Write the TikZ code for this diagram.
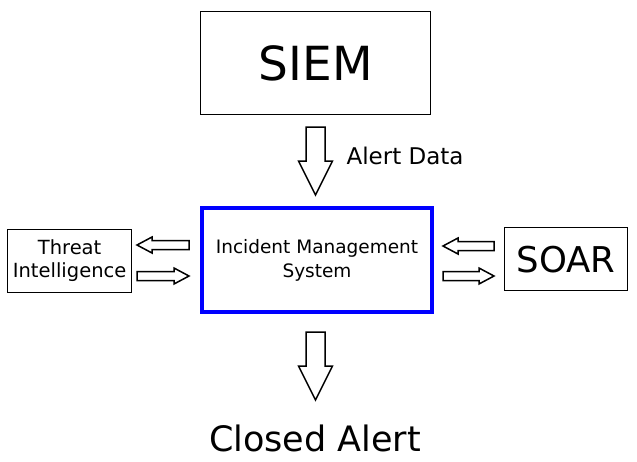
\documentclass[tikz,border=0pt]{standalone}
\usepackage{fontspec}
\setmainfont{DejaVu Sans}
\newcommand\darrow[6]{% x, ytop, ybot, shaft half, head half, headlen
 \draw[line width=1.5pt,line join=miter] (#1-#4,#2) -- (#1+#4,#2) -- (#1+#4,#3-#6) -- (#1+#5,#3-#6) -- (#1,#3) -- (#1-#5,#3-#6) -- (#1-#4,#3-#6) -- cycle;}
\newcommand\harrow[6]{% y, xtail, xtip, shaft half, head half, headlen (signed)
 \draw[line width=1.5pt,line join=miter] (#2,#1-#4) -- (#3-#6,#1-#4) -- (#3-#6,#1-#5) -- (#3,#1) -- (#3-#6,#1+#5) -- (#3-#6,#1+#4) -- (#2,#1+#4) -- cycle;}
\begin{document}
\begin{tikzpicture}[x=1pt,y=-1pt,
 box/.style={draw,line width=1.2pt,inner sep=0,anchor=north west}]
\useasboundingbox (0,0) rectangle (637,461);
\node[box,minimum width=230,minimum height=103,font=\fontsize{47}{47}\selectfont] (siem) at (200,11) {SIEM};
\node[box,draw=blue,line width=4pt,minimum width=230,minimum height=104,font=\fontsize{18.5}{24}\selectfont,align=center] (ims) at (200,206) {Incident Management\\System};
\node[box,minimum width=124,minimum height=63,font=\fontsize{19.5}{23}\selectfont,align=center] (ti) at (7,229) {Threat\\Intelligence};
\node[box,minimum width=123,minimum height=63,font=\fontsize{35.5}{36}\selectfont] (soar) at (504,227) {SOAR};
\node[anchor=west,font=\fontsize{23}{23}\selectfont] (ad) at (343,156) {Alert Data};
\node[font=\fontsize{35}{35}\selectfont] (ca) at (315,438) {Closed Alert};
\darrow{315.5}{127}{195}{9.5}{17}{34}
\darrow{315.5}{332}{400}{9.5}{17}{34}
\harrow{245}{189}{137}{4.5}{8}{-15}
\harrow{276}{137}{189}{4.5}{8}{15}
\harrow{246}{494}{443}{4.5}{8}{-15}
\harrow{276}{443}{494}{4.5}{8}{15}
\end{tikzpicture}
\end{document}
